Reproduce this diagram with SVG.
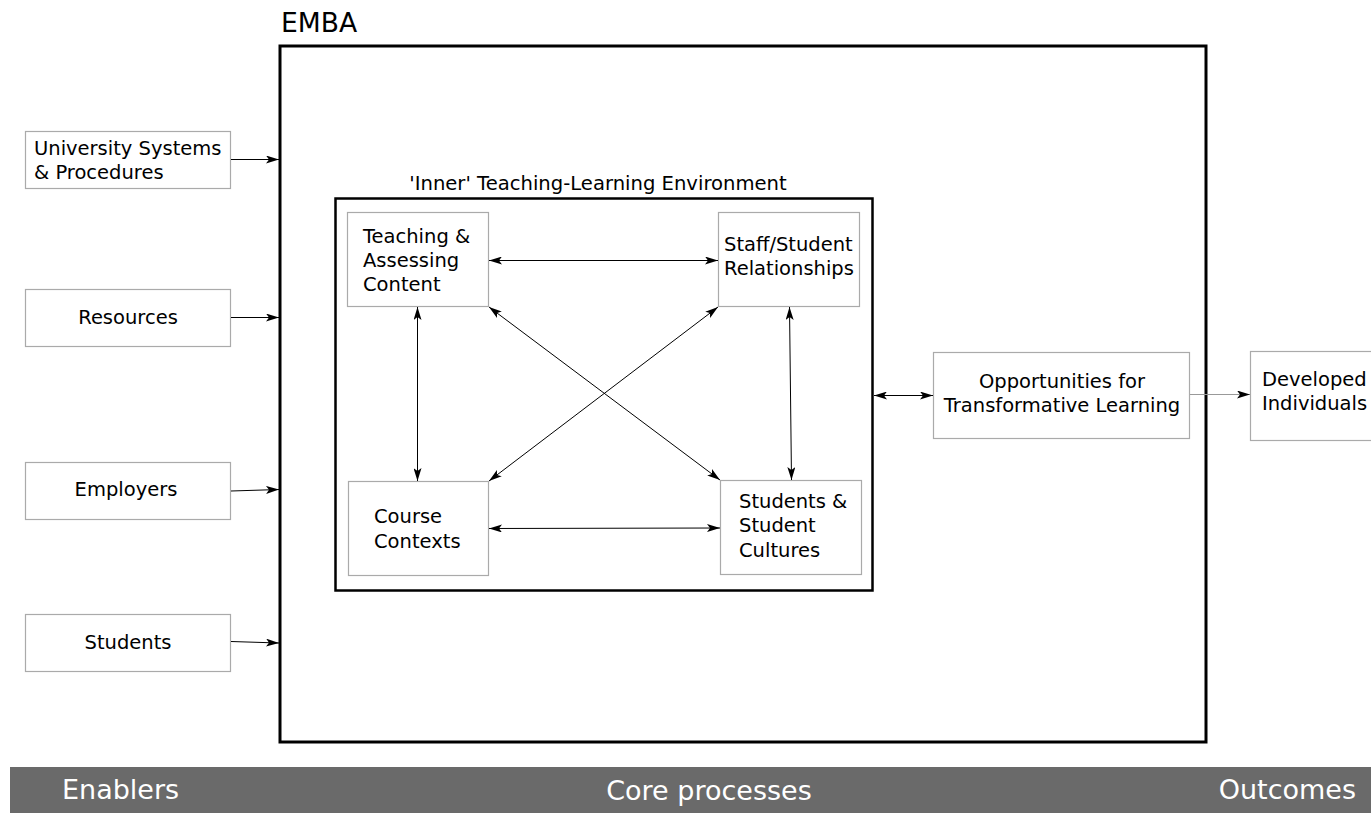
<svg xmlns="http://www.w3.org/2000/svg" width="1371" height="813" viewBox="0 0 1371 813">
<defs>
<marker id="ah" viewBox="0 0 13 8" refX="13" refY="4" markerWidth="13" markerHeight="8" markerUnits="userSpaceOnUse" orient="auto-start-reverse">
<path d="M0,0 L13,4 L0,8 L3,4 z" fill="#000"/>
</marker>
</defs>
<style>
text{font-family:"DejaVu Sans","Liberation Sans",sans-serif;fill:#000}
.n{font-size:19.5px}
.box{fill:#fff;stroke:#aaa;stroke-width:1.2}
.big{fill:none;stroke:#000;stroke-width:3}
.c{stroke:#000;stroke-width:1;fill:none}
.c1{marker-end:url(#ah)}
.c2{marker-start:url(#ah);marker-end:url(#ah)}
.bar{font-size:27px;fill:#fff}
</style>
<rect width="1371" height="813" fill="#fff"/>
<g id="emba">
<rect class="big" x="280" y="46" width="926" height="696"/>
<text x="281" y="32" font-size="26.6">EMBA</text>
</g>
<g id="inner">
<rect class="big" x="335.5" y="198.5" width="537" height="392" style="stroke-width:2.5"/>
<text x="598" y="190" text-anchor="middle" font-size="19.6">'Inner' Teaching-Learning Environment</text>
</g>
<g id="university">
<rect class="box" x="25.5" y="131.5" width="205" height="57"/>
<text class="n" x="34" y="155">University Systems</text>
<text class="n" x="34" y="179">&amp; Procedures</text>
</g>
<g id="resources">
<rect class="box" x="25.5" y="289.5" width="205" height="57"/>
<text class="n" x="128" y="324" text-anchor="middle">Resources</text>
</g>
<g id="employers">
<rect class="box" x="25.5" y="462.5" width="205" height="57"/>
<text class="n" x="126" y="496" text-anchor="middle">Employers</text>
</g>
<g id="students">
<rect class="box" x="25.5" y="614.5" width="205" height="57"/>
<text class="n" x="128" y="649" text-anchor="middle">Students</text>
</g>
<g id="teaching">
<rect class="box" x="347.5" y="212.5" width="141" height="94"/>
<text class="n" x="363" y="243">Teaching &amp;</text>
<text class="n" x="363" y="267">Assessing</text>
<text class="n" x="363" y="291">Content</text>
</g>
<g id="staff">
<rect class="box" x="718.5" y="212.5" width="141" height="94"/>
<text class="n" x="724" y="251">Staff/Student</text>
<text class="n" x="724" y="275">Relationships</text>
</g>
<g id="course">
<rect class="box" x="348.5" y="481.5" width="140" height="94"/>
<text class="n" x="374" y="523">Course</text>
<text class="n" x="374" y="548">Contexts</text>
</g>
<g id="cultures">
<rect class="box" x="720.5" y="480.5" width="141" height="94"/>
<text class="n" x="739" y="508">Students &amp;</text>
<text class="n" x="739" y="532">Student</text>
<text class="n" x="739" y="557">Cultures</text>
</g>
<g id="opportunities">
<rect class="box" x="933.5" y="352.5" width="256" height="86"/>
<text class="n" x="1062" y="388" text-anchor="middle">Opportunities for</text>
<text class="n" x="1062" y="412" text-anchor="middle">Transformative Learning</text>
</g>
<g id="developed">
<rect class="box" x="1250.5" y="351.5" width="130" height="89"/>
<text class="n" x="1262" y="386">Developed</text>
<text class="n" x="1262" y="410">Individuals</text>
</g>
<g id="connectors">
<line class="c c1" x1="231" y1="159.5" x2="279" y2="159.5"/>
<line class="c c1" x1="231" y1="317.5" x2="279" y2="317.5"/>
<line class="c c1" x1="231" y1="491" x2="279" y2="489.5"/>
<line class="c c1" x1="231" y1="641.5" x2="279" y2="643"/>
<line class="c c2" x1="489" y1="260.5" x2="718" y2="260.5"/>
<line class="c c2" x1="489" y1="528.5" x2="720" y2="528"/>
<line class="c c2" x1="417.5" y1="307" x2="417.5" y2="481"/>
<line class="c c2" x1="789.5" y1="307" x2="791.5" y2="480"/>
<line class="c c2" x1="489" y1="307" x2="720" y2="480"/>
<line class="c c2" x1="718" y1="307" x2="489" y2="481"/>
<line class="c c2" x1="874" y1="395.5" x2="933" y2="395.5"/>
<line class="c c1" x1="1190" y1="394.5" x2="1250" y2="394.5" style="stroke:#999"/>
</g>
<g id="bar">
<rect x="10" y="767" width="1361" height="46" fill="#6a6a6a"/>
<text class="bar" x="62" y="799">Enablers</text>
<text class="bar" x="709" y="800" text-anchor="middle">Core processes</text>
<text class="bar" x="1356" y="799" text-anchor="end">Outcomes</text>
</g>
</svg>
